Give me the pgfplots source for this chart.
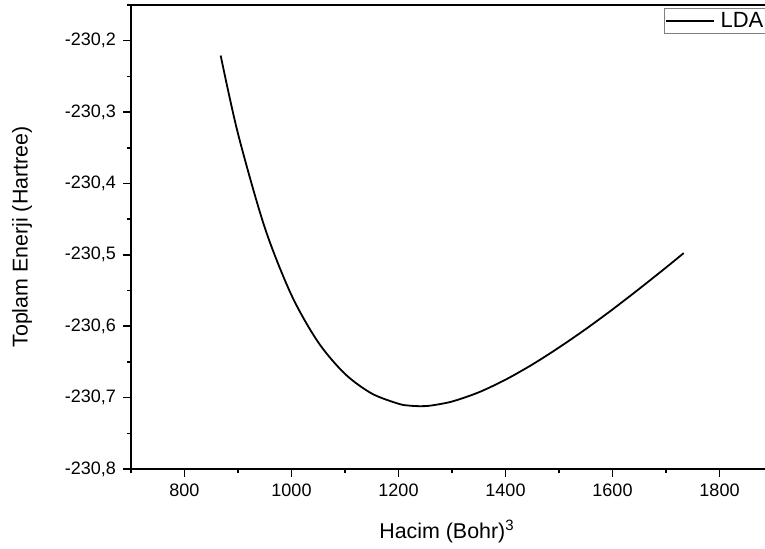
\documentclass[border=0pt]{standalone}
\usepackage{fontspec}
\setmainfont{Liberation Sans}
\usepackage{pgfplots}
\pgfplotsset{compat=1.18}

\begin{document}
\begin{tikzpicture}
\begin{axis}[
  scale only axis,
  width=321pt, height=232pt,
  xmin=700, xmax=1900,
  ymin=-230.8, ymax=-230.15,
  axis line style={line width=1pt},
  tick style={line width=0.8pt, black},
  tick align=outside,
  xtick pos=bottom, ytick pos=left,
  major tick length=4pt, minor tick length=2pt,
  xtick={800,1000,1200,1400,1600,1800},
  xticklabels={800,1000,1200,1400,1600,1800},
  minor xtick={700,900,1100,1300,1500,1700,1900},
  ytick={-230.8,-230.7,-230.6,-230.5,-230.4,-230.3,-230.2},
  yticklabels={{-230,8},{-230,7},{-230,6},{-230,5},{-230,4},{-230,3},{-230,2}},
  minor ytick={-230.75,-230.65,-230.55,-230.45,-230.35,-230.25,-230.15},
  ticklabel style={font=\fontsize{9}{10}\selectfont},
  xlabel={Hacim (Bohr)\textsuperscript{3}},
  ylabel={Toplam Enerji (Hartree)},
  label style={font=\fontsize{10.7}{12}\selectfont},
  x label style={at={(axis description cs:0.4922,0)}, anchor=center, yshift=-31.3pt},
  y label style={at={(axis description cs:-0.1698,0.5)}, anchor=center},
  legend style={at={(rel axis cs:1,1)}, anchor=north east, xshift=-2.8pt, yshift=-1.5pt,
    draw=gray, line width=0.6pt, inner sep=0.5pt, column sep=1.5pt,
    nodes={inner sep=1.2pt}},
  legend image code/.code={\draw[#1] (0pt,0pt) -- (24pt,0pt);},
]
\addplot[black, line width=0.9pt, smooth] coordinates {
  (867.6,-230.2208) (900,-230.3303) (950,-230.4618) (1000,-230.5565)
  (1050,-230.6226) (1100,-230.6668) (1150,-230.6943) (1200,-230.7086)
  (1220,-230.7112) (1240,-230.7120) (1260,-230.7112) (1300,-230.7055)
  (1350,-230.6926) (1400,-230.6749) (1450,-230.6537) (1500,-230.6298)
  (1550,-230.6040) (1600,-230.5765) (1650,-230.5476) (1700,-230.5178)
  (1733,-230.4976)
};
\addlegendentry{\fontsize{11}{12}\selectfont LDA}
\coordinate (o) at (rel axis cs:0,0);
\end{axis}
\pgfresetboundingbox
\path[use as bounding box] ([shift={(-65.5pt,-40pt)}]o) rectangle ([shift={(317pt,234.5pt)}]o);
\end{tikzpicture}
\end{document}
